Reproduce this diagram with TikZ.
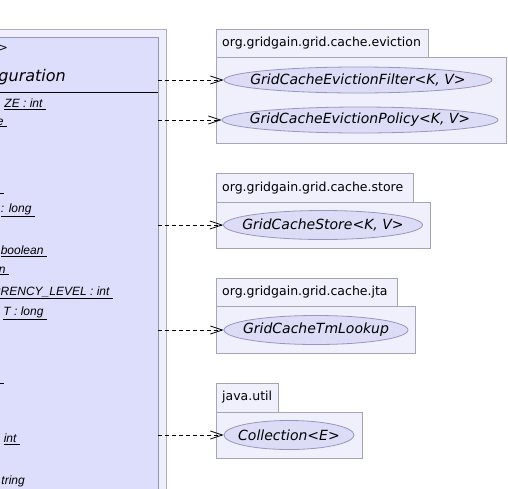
\documentclass[tikz,border=0pt]{standalone}
\usepackage{fontspec}
\setmainfont{DejaVu Sans}
\newfontfamily\attrfont{Liberation Sans}
\usetikzlibrary{arrows.meta,shapes.geometric}

\definecolor{classfill}{RGB}{221,221,252}
\definecolor{classline}{RGB}{150,150,185}
\definecolor{framefill}{RGB}{238,238,252}
\definecolor{frameline}{RGB}{175,175,195}
\definecolor{pkgfill}{RGB}{240,240,252}
\definecolor{pkgline}{RGB}{165,165,180}
\definecolor{ifacefill}{RGB}{220,220,246}
\definecolor{ifaceline}{RGB}{150,150,190}

\tikzset{
	pkgbox/.style={draw=pkgline, fill=pkgfill, line width=0.8},
	pkgname/.style={anchor=west, font=\fontsize{12.5}{14}\selectfont, inner sep=0},
	iface/.style={ellipse, draw=ifaceline, fill=ifacefill, line width=0.8, inner sep=0},
	ifacename/.style={inner sep=0, font=\fontsize{14}{16}\selectfont\itshape},
	attr/.style={anchor=east, inner sep=0, font=\attrfont\fontsize{12}{14}\selectfont\itshape},
	dep/.style={draw, dash pattern=on 4pt off 3pt, line width=0.8,
		-{Straight Barb[length=12pt,width=8pt]}}
}

\begin{document}
\begin{tikzpicture}[x=1pt, y=-1pt]
			\clip (0, 0) rectangle (508, 488);
			\fill[white] (0, 0) rectangle (508, 488);

			% class
			\draw[draw=frameline, fill=framefill, line width=0.8]
				(-10, 29) rectangle (166, 500);
			\draw[draw=classline, fill=classfill, line width=0.8]
				(-10, 37) rectangle (158, 500);
			\draw[line width=0.9]
				(-10, 92) -- (158, 92);
			\node[anchor=east, inner sep=0, font=\fontsize{11}{13}\selectfont] (stereo) at (8, 48)
				{>};
			\node[anchor=east, inner sep=0, font=\fontsize{16}{18}\selectfont\itshape] (cname) at (66, 77)
				{guration};
			\node[attr] (a1) at (46, 104) {\underline{ZE : int\ }};
			\node[attr] (a2) at (7, 123) {\underline{e\ }};
			\node[attr] (a3) at (4, 193) {\underline{\ }};
			\node[attr] (a4) at (35, 210) {\underline{: long\ }};
			\node[attr] (a5) at (47, 251) {\underline{boolean\ }};
			\node[attr] (a6) at (9, 271) {\underline{n\ }};
			\node[attr] (a7) at (113, 293) {\underline{RRENCY\_LEVEL : int\ }};
			\node[attr] (a8) at (47, 313) {\underline{T : long\ }};
			\node[attr] (a9) at (4, 383) {\underline{\ }};
			\node[attr] (a10) at (20, 439) {\underline{int\ }};
			\node[attr] (a11) at (25, 481) {tring};

			% org.gridgain.grid.cache.eviction
			\draw[pkgbox] (216, 29) rectangle (428, 57);
			\draw[pkgbox] (216, 57) rectangle (506, 143);
			\node[pkgname] (p1) at (222, 43) {org.gridgain.grid.cache.eviction};
			\node[iface, minimum width=268, minimum height=26] (filter) at (358, 80) {};
			\node[ifacename] (filter-t) at (filter) {GridCacheEvictionFilter<K, V>};
			\node[iface, minimum width=276, minimum height=26] (policy) at (360, 120) {};
			\node[ifacename] (policy-t) at (policy) {GridCacheEvictionPolicy<K, V>};

			% org.gridgain.grid.cache.store
			\draw[pkgbox] (216, 173) rectangle (413, 202);
			\draw[pkgbox] (216, 202) rectangle (430, 248);
			\node[pkgname] (p2) at (222, 188) {org.gridgain.grid.cache.store};
			\node[iface, minimum width=199, minimum height=29] (store) at (323, 225) {};
			\node[ifacename] (store-t) at (store) {GridCacheStore<K, V>};

			% org.gridgain.grid.cache.jta
			\draw[pkgbox] (216, 278) rectangle (397, 306);
			\draw[pkgbox] (216, 306) rectangle (415, 353);
			\node[pkgname] (p3) at (222, 292) {org.gridgain.grid.cache.jta};
			\node[iface, minimum width=184, minimum height=29] (tm) at (316, 330) {};
			\node[ifacename] (tm-t) at (tm) {GridCacheTmLookup};

			% java.util
			\draw[pkgbox] (216, 383) rectangle (278, 412);
			\draw[pkgbox] (216, 412) rectangle (362, 458);
			\node[pkgname] (p4) at (222, 397) {java.util};
			\node[iface, minimum width=130, minimum height=29] (coll) at (289, 435) {};
			\node[ifacename] (coll-t) at (coll) {Collection<E>};

			% dependencies
			\coordinate (d1) at (158, 80);
			\coordinate (d2) at (158, 120);
			\coordinate (d3) at (158, 225);
			\coordinate (d4) at (158, 330);
			\coordinate (d5) at (158, 435);
			\draw[dep] (d1) -- (filter.west);
			\draw[dep] (d2) -- (policy.west);
			\draw[dep] (d3) -- (store.west);
			\draw[dep] (d4) -- (tm.west);
			\draw[dep] (d5) -- (coll.west);

		\end{tikzpicture}
\end{document}
